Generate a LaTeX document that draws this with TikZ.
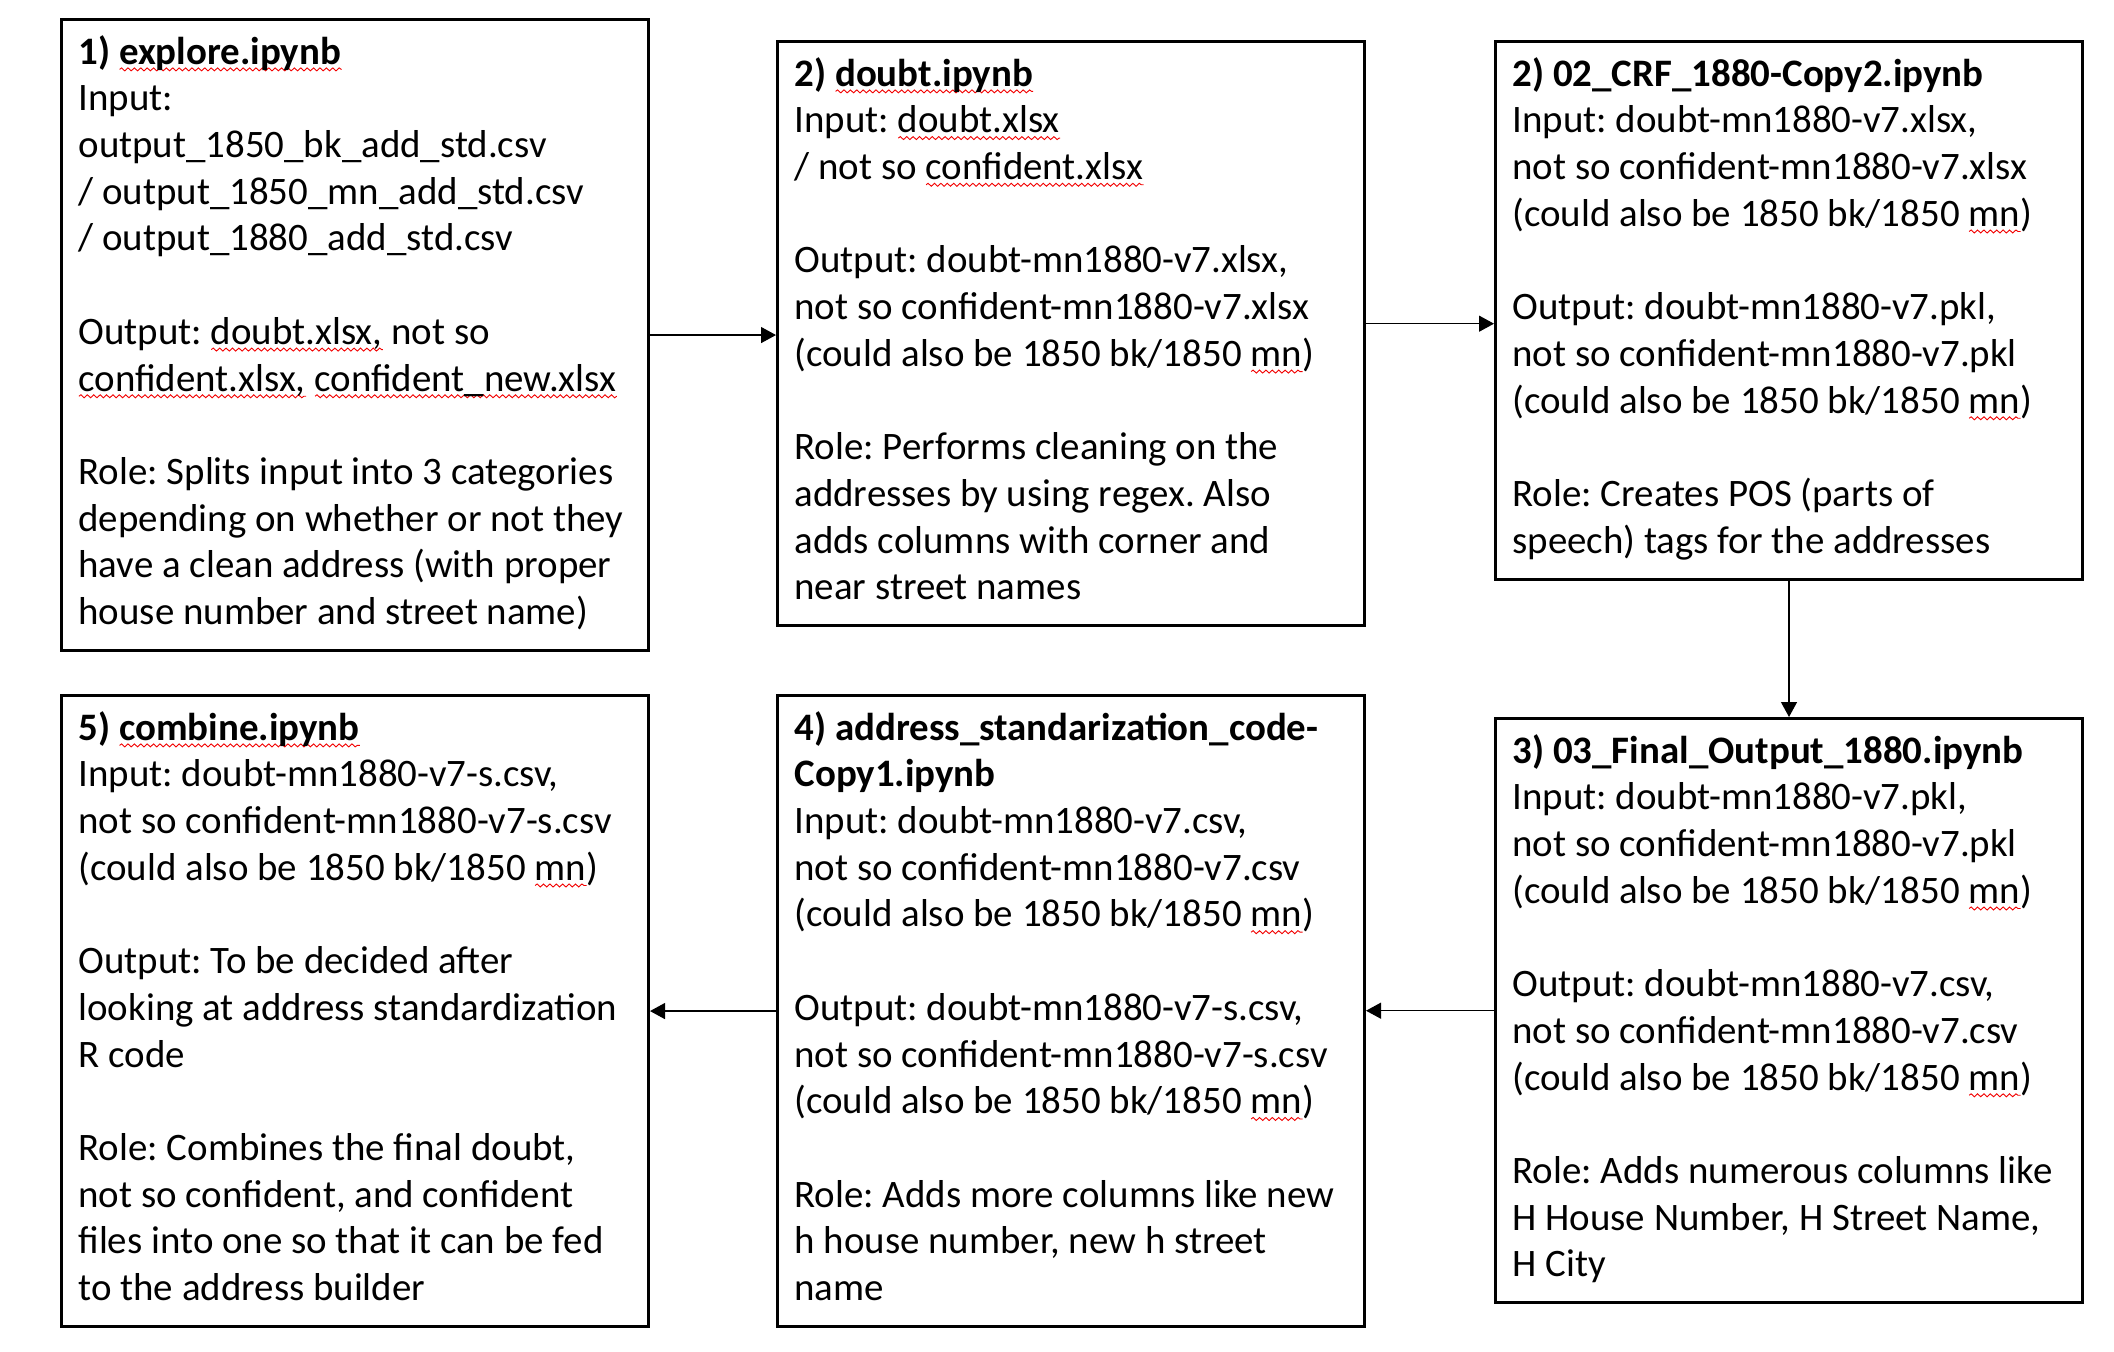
\documentclass[tikz,border=0pt]{standalone}
\usepackage{fontspec}
\setmainfont{Carlito}
\usetikzlibrary{arrows.meta,decorations.pathmorphing}
\newsavebox\spellbox
\newdimen\spellwd
\newcommand\spell[1]{\leavevmode\sbox\spellbox{#1}\spellwd=\wd\spellbox
  \rlap{\tikz[baseline=0pt]\draw[red!95!black, line width=0.45pt, decorate,
    decoration={snake, amplitude=0.75pt, segment length=3.2pt}]
    (0pt,-2.6pt) -- (\spellwd,-2.6pt);}\usebox\spellbox}
\newcommand\gap{\\[\baselineskip]}
\newcommand\linestart{\spaceskip=0pt\xspaceskip=0pt\relax\strut}
\tikzset{
  stepnode/.style={draw, line width=1.5pt, anchor=north west, align=left,
    text width=276.5pt, inner xsep=8.5pt, inner ysep=6pt,
    font=\fontsize{19.45pt}{23.35pt}\selectfont\frenchspacing},
  flow/.style={-{Triangle[length=7.5pt,width=8pt]}, line width=0.65pt}
}

\begin{document}
\begin{tikzpicture}[x=0.5pt,y=-0.5pt]
\useasboundingbox (0,0) rectangle (2114,1352);

\node[stepnode] (explore) at (60,18) {\linestart\textbf{1) \spell{explore.ipynb}}\\
Input:\\
output\_1850\_bk\_add\_std.csv\\
/ output\_1850\_mn\_add\_std.csv\\
/ output\_1880\_add\_std.csv\gap
Output: \spell{doubt.xlsx,} not so\\
\spell{confident.xlsx,} \spell{confident\_new.xlsx}\gap
Role: Splits input into 3 categories\\
depending on whether or not they\\
have a clean address (with proper\\
house number and street name)\strut};

\node[stepnode] (doubt) at (776,40) {\linestart\textbf{2) \spell{doubt.ipynb}}\\
Input: \spell{doubt.xlsx}\\
/ not so \spell{confident.xlsx}\gap
Output: doubt-mn1880-v7.xlsx,\\
not so confident-mn1880-v7.xlsx\\
(could also be 1850 bk/1850 \spell{mn})\gap
Role: Performs cleaning on the\\
addresses by using regex. Also\\
adds columns with corner and\\
near street names\strut};

\node[stepnode] (crf) at (1494,40) {\linestart\textbf{2) 02\_CRF\_1880-Copy2.ipynb}\\
Input: doubt-mn1880-v7.xlsx,\\
not so confident-mn1880-v7.xlsx\\
(could also be 1850 bk/1850 \spell{mn})\gap
Output: doubt-mn1880-v7.pkl,\\
not so confident-mn1880-v7.pkl\\
(could also be 1850 bk/1850 \spell{mn})\gap
Role: Creates POS (parts of\\
speech) tags for the addresses\strut};

\node[stepnode] (final) at (1494,717) {\linestart\textbf{3) 03\_Final\_Output\_1880.ipynb}\\
Input: doubt-mn1880-v7.pkl,\\
not so confident-mn1880-v7.pkl\\
(could also be 1850 bk/1850 \spell{mn})\gap
Output: doubt-mn1880-v7.csv,\\
not so confident-mn1880-v7.csv\\
(could also be 1850 bk/1850 \spell{mn})\gap
Role: Adds numerous columns like\\
H House Number, H Street Name,\\
H City\strut};

\node[stepnode] (stdz) at (776,694) {\linestart\textbf{4) address\_standarization\_code-}\\
\textbf{Copy1.ipynb}\\
Input: doubt-mn1880-v7.csv,\\
not so confident-mn1880-v7.csv\\
(could also be 1850 bk/1850 \spell{mn})\gap
Output: doubt-mn1880-v7-s.csv,\\
not so confident-mn1880-v7-s.csv\\
(could also be 1850 bk/1850 \spell{mn})\gap
Role: Adds more columns like new\\
h house number, new h street\\
name\strut};

\node[stepnode] (combine) at (60,694) {\linestart\textbf{5) \spell{combine.ipynb}}\\
Input: doubt-mn1880-v7-s.csv,\\
not so confident-mn1880-v7-s.csv\\
(could also be 1850 bk/1850 \spell{mn})\gap
Output: To be decided after\\
looking at address standardization\\
R code\gap
Role: Combines the final doubt,\\
not so confident, and confident\\
files into one so that it can be fed\\
to the address builder\strut};

\draw[flow] (explore.east) -- (explore.east -| doubt.west);
\draw[flow] ([yshift=5pt]doubt.east) -- ([yshift=5pt]doubt.east -| crf.west);
\draw[flow] (crf.south) -- (final.north);
\draw[flow] (final.west) -- (final.west -| stdz.east);
\draw[flow] (stdz.west) -- (stdz.west -| combine.east);
\end{tikzpicture}
\end{document}
